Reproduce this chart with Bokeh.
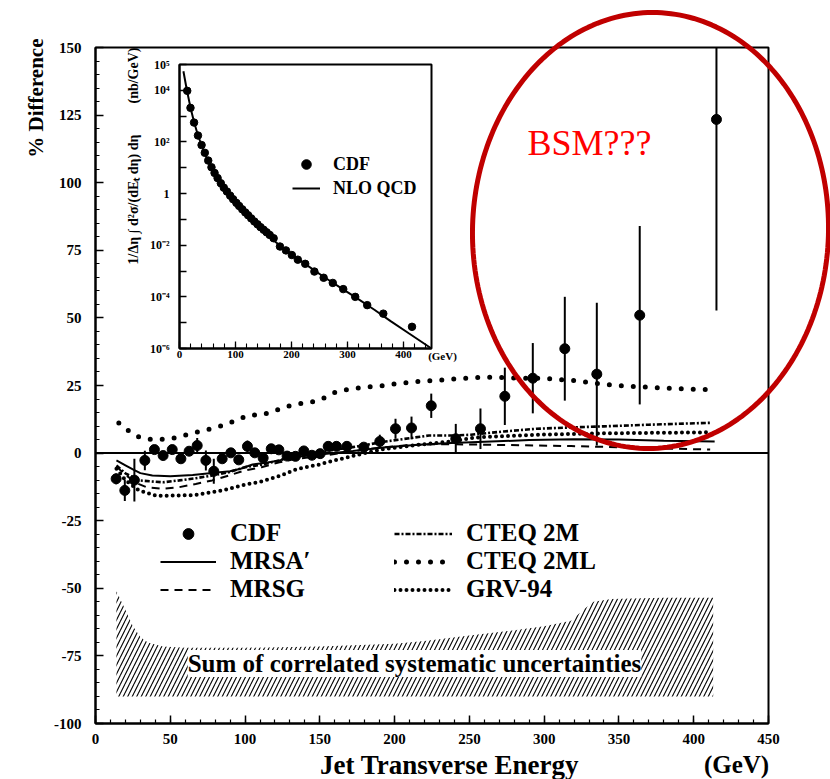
import numpy as np
from bokeh.plotting import figure
from bokeh.models import (Range1d, LinearAxis, LogAxis, LogScale, FixedTicker,
                          SingleIntervalTicker, Label, Legend, LegendItem,
                          PolyAnnotation, ColumnDataSource)
from bokeh.embed import file_html
from bokeh.resources import INLINE

# ---------------- data ----------------
y_tick_values = [-100, -75, -50, -25, 0, 25, 50, 75, 100, 125, 150]
y_tick_labels = ["-100", "-75", "-50", "-25", "0", "25", "50", "75", "100", "125", "150"]

cdf_et = [13.8, 19.6, 26.0, 33.0, 39.4, 45.2, 51.3, 57.1, 62.6, 68.0, 73.8, 79.1,
          84.7, 90.5, 95.8, 101.6, 106.5, 112.1, 117.5, 122.6, 128.1, 133.7, 139.3,
          144.7, 150.2, 155.6, 161.1, 168.1, 179.4, 190.1, 200.6, 211.3, 224.5,
          240.9, 257.4, 273.7, 292.4, 313.8, 335.2, 363.9, 415.2]
cdf_diff = [-9.5, -13.8, -10.0, -2.7, 1.3, -0.9, 1.3, -2.1, 0.7, 2.8, -2.7, -6.7,
            -2.1, 0.1, -2.5, 2.5, 0.1, -1.8, 1.6, 1.2, -1.1, -1.2, 0.8,
            -0.8, -0.2, 2.5, 2.5, 2.5, 2.2, 4.3, 9.0, 9.3, 17.5,
            5.3, 9.0, 21.0, 27.7, 38.6, 29.2, 51.0, 123.4]
cdf_err = [2.0, 3.9, 7.9, 3.6, 1.5, 1.3, 1.3, 1.5, 1.5, 2.8, 3.7, 4.6,
           1.5, 1.3, 1.5, 2.2, 1.3, 1.5, 1.5, 1.5, 1.5, 1.5, 1.5,
           1.5, 1.5, 1.5, 1.5, 1.5, 1.5, 2.5, 3.7, 4.2, 4.5,
           5.5, 7.5, 10.6, 13.0, 19.2, 26.4, 33.0, 70.7]

mrsa_et = [14, 20, 25, 30, 38, 50, 65, 78, 90, 97, 105, 114, 123, 131, 150, 172,
           194, 216, 238, 260, 290, 320, 350, 380, 414]
mrsa_diff = [-2.7, -4.5, -6.0, -7.4, -8.3, -8.6, -8.1, -7.4, -6.7, -5.8, -4.2, -3.6,
             -2.7, -1.5, -0.5, 0.8, 2.2, 3.1, 3.7, 4.2, 4.8, 5.1, 5.0, 4.6, 4.3]

mrsg_et = [14, 20, 27, 34, 45, 56, 67, 78, 89, 100, 111, 123, 134, 150, 170, 190,
           210, 230, 250, 273, 318, 362, 411]
mrsg_diff = [-5.0, -8.0, -11.0, -12.6, -13.2, -12.6, -11.4, -10.1, -8.3, -6.4, -5.2,
             -3.4, -2.1, -1.2, 0.5, 2.0, 3.0, 3.3, 3.2, 3.0, 2.6, 2.0, 1.3]

cteq2m_et = [14, 20, 29, 45, 56, 67, 78, 89, 100, 111, 123, 134, 149, 172, 194,
             223, 240, 251, 273, 295, 318, 340, 370, 411]
cteq2m_diff = [-4.6, -7.5, -10.1, -10.8, -10.1, -9.3, -8.3, -7.1, -5.2, -4.3, -2.7,
               -0.9, 0.4, 2.2, 4.3, 6.5, 6.5, 6.8, 8.0, 9.0, 9.5, 9.9, 10.5, 11.2]

cteq2ml_et = [15.6, 22.3, 29.4, 37.9, 46.6, 54.8, 63.1, 71.3, 79.3, 86.9, 94.7, 103.2,
              111.4, 119.2, 127.7, 135.5, 143.7, 152.0, 160.0, 167.6, 175.6, 184.3,
              192.3, 200.6, 209.5, 218.0, 226.2, 234.4, 242.9, 251.2, 259.6, 280,
              300, 320, 340, 360, 380, 400, 410]
cteq2ml_diff = [11.1, 8.2, 5.9, 5.0, 5.1, 5.8, 7.1, 8.2, 9.3, 10.5, 12.3, 14.1,
                14.1, 15.5, 17.2, 18.2, 18.7, 20.2, 22.4, 23.4, 24.1, 24.6,
                24.9, 25.6, 26.1, 26.6, 26.8, 27.2, 27.6, 27.8, 28.1, 27.8,
                27.6, 26.8, 25.4, 24.6, 24.1, 23.6, 23.5]

grv_et = [14, 20, 29, 41, 55, 67, 85, 100, 111, 123, 134, 149, 160, 172, 183, 194,
          216, 238, 251, 261, 295, 340, 411]
grv_diff = [-5.8, -10.0, -13.8, -15.8, -15.7, -15.5, -13.8, -11.7, -10.5, -8.5, -6.0,
            -4.3, -2.7, -1.1, 0.4, 1.6, 3.1, 4.3, 5.5, 6.0, 6.8, 7.3, 7.7]

syst_et = [14, 20, 25, 30, 35, 45, 60, 100, 150, 200, 220, 250, 280, 300, 318, 326,
           333, 345, 380, 413]
syst_top = [-51, -58, -64, -68, -70, -71.5, -72, -72, -71.5, -70.5, -69.5, -67.5, -65.5,
            -64, -62, -58, -55, -54, -53.5, -53.5]
syst_bottom = [-90] * len(syst_et)

# inset: cross section (log10 of nb/GeV)
inset_cdf_log10 = [3.98, 3.32, 2.75, 2.25, 1.88, 1.58, 1.28, 1.02, 0.80, 0.60, 0.40, 0.23,
                   0.08, -0.08, -0.22, -0.36, -0.48, -0.61, -0.73, -0.84, -0.96, -1.08, -1.19,
                   -1.30, -1.40, -1.50, -1.60, -1.73, -2.05, -2.20, -2.38, -2.56, -2.72,
                   -3.02, -3.26, -3.46, -3.70, -4.00, -4.32, -4.65, -5.16]
nlo_et = [7, 13, 20, 26, 33, 44, 55, 67, 80, 91, 105, 121, 140, 162, 180, 198, 228,
          258, 288, 318, 348, 377, 410, 450]
nlo_log10 = [4.74, 4.02, 3.30, 2.77, 2.25, 1.61, 1.08, 0.60, 0.20, -0.11, -0.50, -0.91,
             -1.33, -1.71, -2.02, -2.32, -2.78, -3.23, -3.65, -4.07, -4.50, -4.94,
             -5.42, -6.0]
inset_decades = [-6, -5, -4, -3, -2, -1, 0, 1, 2, 3, 4, 5]
inset_decade_labels = ["10\u207b\u2076", "", "10\u207b\u2074", "", "10\u207b\u00b2", "",
                       "1", "", "10\u00b2", "", "10\u2074", "10\u2075"]

# ---------------- geometry ----------------
W, H = 830, 779
FL, FR, FT, FB = 95, 768, 47, 723          # main plot box (px)
IL, IR, IT, IB = 179, 431, 64, 348         # inset box (px)
XMAX, YMIN, YMAX = 450, -100, 150
LMIN, LMAX = -6, 5


def X(px):
    return (px - FL) / (FR - FL) * XMAX


def Y(py):
    return YMAX - (py - FT) / (FB - FT) * (YMAX - YMIN)


ipx = (IR - IL) / XMAX
dpp = (LMAX - LMIN) / (IB - IT)


def IX(px):
    return (px - IL) / ipx


def IY(py):
    return 10 ** (LMAX - (py - IT) * dpp)


FONT = "Liberation Serif"

p = figure(width=W, height=H, x_range=Range1d(X(0), X(W)), y_range=Range1d(Y(H), Y(0)),
           min_border=0, x_axis_location=None, y_axis_location=None,
           output_backend="svg", toolbar_location=None, title=None,
           extra_x_ranges={"inset": Range1d(IX(0), IX(W))},
           extra_y_ranges={"inset": Range1d(IY(H), IY(0))},
           extra_y_scales={"inset": LogScale()})
p.grid.visible = False
p.outline_line_color = None
p.background_fill_color = "white"
p.border_fill_color = "white"

# main axes, drawn at the box edges
xa = LinearAxis(fixed_location=YMIN, bounds=(0, XMAX),
                ticker=SingleIntervalTicker(interval=50, num_minor_ticks=5))
ya = LinearAxis(fixed_location=0, bounds=(YMIN, YMAX),
                ticker=SingleIntervalTicker(interval=25, num_minor_ticks=5))
ya.major_label_overrides = {v: s for v, s in zip(y_tick_values, y_tick_labels)}
for ax in (xa, ya):
    ax.axis_line_width = 2
    ax.major_tick_in = 8
    ax.major_tick_out = 0
    ax.minor_tick_in = 4
    ax.minor_tick_out = 0
    ax.major_tick_line_width = 1.5
    ax.minor_tick_line_width = 1.2
    ax.major_label_text_font = FONT
    ax.major_label_text_font_style = "bold"
    ax.major_label_text_font_size = "15px"
    ax.major_label_text_color = "black"
xa.major_label_standoff = 10
ya.major_label_standoff = 14
p.add_layout(xa, "below")
p.add_layout(ya, "left")

# plot box
p.quad(left=[0], right=[XMAX], bottom=[YMIN], top=[YMAX], fill_alpha=0,
       line_color="black", line_width=2)

# systematic band
p.varea(x=syst_et, y1=syst_bottom, y2=syst_top, fill_alpha=0,
        hatch_pattern="/", hatch_color="black", hatch_scale=9, hatch_weight=1.1)

# zero line
p.line(x=[0, XMAX], y=[0, 0], line_color="black", line_width=2)

r_mrsa = p.line(mrsa_et, mrsa_diff, line_color="black", line_width=2)
r_mrsg = p.line(mrsg_et, mrsg_diff, line_color="black", line_width=2, line_dash="8 6")
r_c2m = p.line(cteq2m_et, cteq2m_diff, line_color="black", line_width=2.6,
               line_dash="5 2 2 2")
r_c2ml = p.line(cteq2ml_et, cteq2ml_diff, line_color="black", line_width=5,
                line_dash="0 12", line_cap="round")
r_grv = p.line(grv_et, grv_diff, line_color="black", line_width=4,
               line_dash="0 6", line_cap="round")

src = ColumnDataSource(dict(
    et=cdf_et, diff=cdf_diff,
    lo=[d - e for d, e in zip(cdf_diff, cdf_err)],
    hi=[min(d + e, YMAX) for d, e in zip(cdf_diff, cdf_err)],
    xs=[10 ** v for v in inset_cdf_log10]))
p.segment(x0="et", y0="lo", x1="et", y1="hi", source=src, line_color="black",
          line_width=2)
r_cdf = p.scatter("et", "diff", source=src, size=10, color="black")

# ---------------- inset ----------------
p.quad(left=[0], right=[XMAX], bottom=[10 ** LMIN], top=[10 ** LMAX],
       x_range_name="inset", y_range_name="inset", fill_color="white",
       line_color="black", line_width=2)
r_nlo = p.line(nlo_et, [10 ** v for v in nlo_log10], x_range_name="inset",
               y_range_name="inset", line_color="black", line_width=2)
r_icdf = p.scatter("et", "xs", source=src, x_range_name="inset", y_range_name="inset",
                   size=7.5, color="black")

ixa = LinearAxis(x_range_name="inset", y_range_name="inset", fixed_location=10 ** LMIN,
                 bounds=(0, XMAX), ticker=SingleIntervalTicker(interval=100, num_minor_ticks=5))
iya = LogAxis(x_range_name="inset", y_range_name="inset", fixed_location=0,
              bounds=(10 ** LMIN, 10 ** LMAX),
              ticker=FixedTicker(ticks=[10.0 ** d for d in inset_decades], minor_ticks=[]))
iya.major_label_overrides = {10.0 ** d: s for d, s in zip(inset_decades, inset_decade_labels)}
for ax in (ixa, iya):
    ax.axis_line_width = 2
    ax.major_tick_in = 7
    ax.major_tick_out = 0
    ax.minor_tick_in = 5
    ax.minor_tick_out = 0
    ax.major_tick_line_width = 1.3
    ax.minor_tick_line_width = 1.1
    ax.major_label_text_font = FONT
    ax.major_label_text_font_style = "bold"
    ax.major_label_text_color = "black"
ixa.major_label_text_font_size = "11px"
iya.major_label_text_font_size = "12px"
ixa.major_label_standoff = 2
iya.major_label_standoff = 10
p.add_layout(ixa, "below")
p.add_layout(iya, "left")


def lab(text, x, y, size, align="center", baseline="middle", angle=0.0,
        style="bold", color="black", **kw):
    return Label(x=x, y=y, text=text, text_font=FONT, text_font_size=size,
                 text_font_style=style, text_color=color, text_align=align,
                 text_baseline=baseline, angle=angle, **kw)


p.add_layout(lab("(GeV)", IX(442), IY(355), "11px", x_range_name="inset",
                 y_range_name="inset"))
p.add_layout(lab("(nb/GeV)", IX(133), IY(75), "14px", angle=np.pi / 2,
                 x_range_name="inset", y_range_name="inset"))
p.add_layout(lab("1/\u0394\u03b7 \u222b d\u00b2\u03c3/(dE\u209c d\u03b7) d\u03b7",
                 IX(133), IY(199), "14px", angle=np.pi / 2,
                 x_range_name="inset", y_range_name="inset"))

leg_in = Legend(items=[LegendItem(label="CDF", renderers=[r_icdf]),
                       LegendItem(label="NLO QCD", renderers=[r_nlo])],
                location=(292, H - 200))
leg1 = Legend(items=[LegendItem(label="CDF", renderers=[r_cdf]),
                     LegendItem(label="MRSA\u2032", renderers=[r_mrsa]),
                     LegendItem(label="MRSG", renderers=[r_mrsg])],
              location=(160, H - 603))
leg2 = Legend(items=[LegendItem(label="CTEQ 2M", renderers=[r_c2m]),
                     LegendItem(label="CTEQ 2ML", renderers=[r_c2ml]),
                     LegendItem(label="GRV-94", renderers=[r_grv])],
              location=(394, H - 603))
for lg, fs, gw, gh, st, sp in ((leg_in, "18px", 28, 24, 13, -1),
                               (leg1, "25px", 56, 27, 14, -1),
                               (leg2, "25px", 58, 27, 14, -1)):
    lg.label_text_font = FONT
    lg.label_text_font_style = "bold"
    lg.label_text_font_size = fs
    lg.label_text_color = "black"
    lg.glyph_width = gw
    lg.glyph_height = gh
    lg.label_height = gh
    lg.label_standoff = st
    lg.spacing = sp
    lg.padding = 0
    lg.margin = 0
    lg.background_fill_alpha = 0
    lg.border_line_alpha = 0
    p.add_layout(lg)

# ---------------- texts ----------------
p.add_layout(lab("Sum of correlated systematic uncertainties", X(414), Y(663), "25px",
                 background_fill_color="white"))
p.add_layout(lab("% Difference", X(35), Y(38), "21px", align="right", angle=np.pi / 2))
p.add_layout(lab("Jet Transverse Energy", X(449), Y(764), "27px"))
p.add_layout(lab("(GeV)", X(736), Y(764), "25px"))

# BSM ellipse (annotation)
cx, cy, ea, eb, th = 650, 230, 218, 178, 0.03
t = np.linspace(0, 2 * np.pi, 241)
ex = cx + eb * np.cos(t) * np.cos(th) - ea * np.sin(t) * np.sin(th)
ey = cy + eb * np.cos(t) * np.sin(th) + ea * np.sin(t) * np.cos(th)
p.add_layout(PolyAnnotation(xs=[X(v) for v in ex], ys=[Y(v) for v in ey],
                            fill_alpha=0, line_color="#c00000", line_alpha=1.0,
                            line_width=5))
p.add_layout(lab("BSM???", X(527), Y(142), "36px", align="left", baseline="alphabetic",
                 style="normal", color="#ff0000"))

open("out.html", "w").write(file_html(p, INLINE))
